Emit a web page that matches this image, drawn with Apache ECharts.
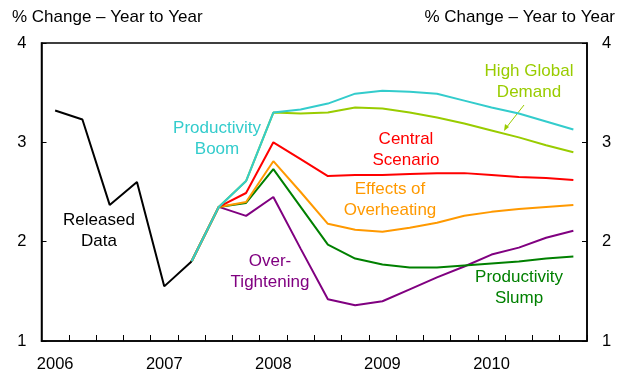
<!DOCTYPE html>
<html>
<head>
<meta charset="utf-8">
<script src="https://cdn.jsdelivr.net/npm/echarts@6/dist/echarts.min.js"></script>
<style>
  html, body { margin: 0; padding: 0; background: #fff; }
  #chart { width: 625px; height: 377px; }
</style>
</head>
<body>
<div id="chart"></div>
<script>
// Quarterly periods 2006 Q1 .. 2010 Q4
const quarters = [];
for (let y = 2006; y <= 2010; y++) for (let q = 1; q <= 4; q++) quarters.push(y + 'Q' + q);

// Released (actual) data, 2006Q1 .. 2007Q2
const releasedData = [3.32, 3.23, 2.37, 2.60, 1.55, 1.80];

// Scenario paths, starting from 2007Q2
const scenarioStart = 5;
const productivityBoom = [1.80, 2.35, 2.61, 3.30, 3.33, 3.39, 3.49, 3.52, 3.51, 3.49, 3.42, 3.35, 3.29, 3.21, 3.13];
const highGlobalDemand = [1.80, 2.35, 2.61, 3.30, 3.29, 3.30, 3.35, 3.34, 3.30, 3.25, 3.19, 3.12, 3.05, 2.97, 2.90];
const centralScenario  = [1.80, 2.35, 2.49, 3.00, 2.83, 2.66, 2.67, 2.67, 2.68, 2.69, 2.69, 2.67, 2.65, 2.64, 2.62];
const overheating      = [1.80, 2.35, 2.40, 2.81, 2.50, 2.18, 2.12, 2.10, 2.14, 2.19, 2.26, 2.30, 2.33, 2.35, 2.37];
const productivitySlump= [1.80, 2.35, 2.39, 2.73, 2.35, 1.97, 1.83, 1.77, 1.74, 1.74, 1.76, 1.78, 1.80, 1.83, 1.85];
const overTightening   = [1.80, 2.35, 2.26, 2.45, 1.93, 1.42, 1.36, 1.40, 1.52, 1.64, 1.75, 1.87, 1.94, 2.04, 2.11];

const yTicks = [1, 2, 3, 4];

function pad(values, start) {
  const out = new Array(quarters.length).fill(null);
  values.forEach((v, i) => { out[start + i] = v; });
  return out;
}

const FONT = '"Liberation Sans", Arial, sans-serif';

function lineSeries(name, values, start, color, z) {
  return {
    name: name,
    type: 'line',
    data: pad(values, start),
    symbol: 'none',
    connectNulls: false,
    z: z,
    lineStyle: { color: color, width: 2 },
    animation: false
  };
}

const chart = echarts.init(document.getElementById('chart'), null, { renderer: 'canvas' });

const yAxisCommon = {
  type: 'value',
  min: yTicks[0],
  max: yTicks[yTicks.length - 1],
  interval: 1,
  axisLine: { show: true, lineStyle: { color: '#000', width: 1.5 } },
  axisTick: { show: true, inside: true, length: 5, lineStyle: { color: '#000' } },
  splitLine: { show: false },
  axisLabel: { color: '#000', fontSize: 16.5, fontFamily: FONT, margin: 15 }
};

// centred two-line annotation; (x, y) is the top centre of the block
function label(text, x, y, color) {
  return {
    type: 'text',
    x: x, y: y,
    z: 100,
    style: {
      text: text,
      fill: color,
      font: '17px ' + FONT,
      textAlign: 'center',
      textVerticalAlign: 'top',
      lineHeight: 21
    }
  };
}

chart.setOption({
  backgroundColor: '#fff',
  animation: false,
  grid: {
    left: 41.5, right: 38, top: 43, bottom: 36,
    show: true, borderColor: '#000', borderWidth: 1.5, backgroundColor: 'transparent'
  },
  xAxis: {
    type: 'category',
    data: quarters,
    boundaryGap: true,
    axisLine: { show: true, lineStyle: { color: '#000', width: 1.5 } },
    axisTick: { show: true, inside: true, length: 6, interval: 0, lineStyle: { color: '#000' } },
    axisLabel: {
      interval: 0, color: '#000', fontSize: 16.5, fontFamily: FONT, margin: 15,
      formatter: v => (v.endsWith('Q1') ? v.slice(0, 4) : '')
    },
    splitLine: { show: false }
  },
  yAxis: [
    Object.assign({}, yAxisCommon, { position: 'left' }),
    Object.assign({}, yAxisCommon, { position: 'right' })
  ],
  series: [
    lineSeries('Released Data', releasedData, 0, '#000000', 10),
    lineSeries('Over-Tightening', overTightening, scenarioStart, '#800080', 2),
    lineSeries('Productivity Slump', productivitySlump, scenarioStart, '#008000', 3),
    lineSeries('Effects of Overheating', overheating, scenarioStart, '#FF9900', 4),
    lineSeries('Central Scenario', centralScenario, scenarioStart, '#FF0000', 5),
    lineSeries('High Global Demand', highGlobalDemand, scenarioStart, '#99CC00', 6),
    lineSeries('Productivity Boom', productivityBoom, scenarioStart, '#33CCCC', 7)
  ],
  graphic: [
    { type: 'text', x: 12, y: 9, style: { text: '% Change \u2013 Year to Year', fill: '#000', font: '17px ' + FONT, textVerticalAlign: 'top' } },
    { type: 'text', x: 615, y: 9, style: { text: '% Change \u2013 Year to Year', fill: '#000', font: '17px ' + FONT, textAlign: 'right', textVerticalAlign: 'top' } },
    label('Productivity\nBoom', 217, 118, '#33CCCC'),
    label('Released\nData', 99, 210, '#000000'),
    label('Over-\nTightening', 270, 251, '#800080'),
    label('Central\nScenario', 406, 129, '#FF0000'),
    label('Effects of\nOverheating', 390, 179, '#FF9900'),
    label('High Global\nDemand', 529, 61, '#99CC00'),
    label('Productivity\nSlump', 519, 267, '#008000'),
    // pointer from the High Global Demand label to its line
    { type: 'line', shape: { x1: 524, y1: 105, x2: 506, y2: 128 }, style: { stroke: '#99CC00', lineWidth: 1 } },
    { type: 'polygon', shape: { points: [[504, 131], [505, 124], [509, 127]] }, style: { fill: '#99CC00' } }
  ]
});
</script>
</body>
</html>
